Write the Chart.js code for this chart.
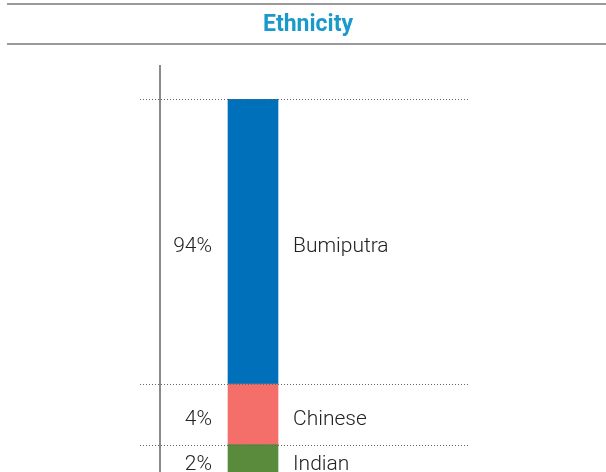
<!DOCTYPE html>
<html>
<head>
<meta charset="utf-8">
<script src="https://cdn.jsdelivr.net/npm/chart.js@4/dist/chart.umd.min.js"></script>
<style>
  html, body { margin: 0; padding: 0; background: #ffffff; overflow: hidden; }
  #wrap { position: relative; width: 606px; height: 480px; }
</style>
</head>
<body>
<div id="wrap"><canvas id="c"></canvas></div>
<script>
// ---- data (top to bottom as shown in the picture) ----
const chartTitle = 'Ethnicity';
const categories = ['Bumiputra', 'Chinese', 'Indian'];
const shares = [94, 4, 2];              // percentage labels shown beside the bar
const segmentHeights = [94, 20, 10];    // drawn segment heights (bar is not to scale)
const segmentColors = ['#0070bb', '#f46f69', '#5a8b3d'];
const axisMax = 135;

// build stacked datasets bottom-up (Chart.js stacks first dataset at the bottom)
const order = categories.map((_, i) => i).reverse();
const datasets = order.map(i => ({
  label: categories[i],
  data: [segmentHeights[i]],
  backgroundColor: segmentColors[i],
  borderWidth: 0,
  barThickness: 50,
  share: shares[i]
}));

const labelFont = '300 21px Roboto';
const titleFont = 'bold 23px Roboto';

const decor = {
  id: 'decor',
  beforeDraw(chart) {
    const ctx = chart.ctx;
    const W = chart.width;
    ctx.save();
    ctx.strokeStyle = '#9a9a9a';
    ctx.lineWidth = 2;
    ctx.beginPath();
    ctx.moveTo(7, 4); ctx.lineTo(W, 4);
    ctx.moveTo(7, 44); ctx.lineTo(W, 44);
    ctx.stroke();
    ctx.font = titleFont;
    ctx.fillStyle = '#1a9acb';
    ctx.textAlign = 'center';
    ctx.textBaseline = 'middle';
    ctx.fillText(chartTitle, 308, 25);
    ctx.restore();
  },
  afterDatasetsDraw(chart) {
    const ctx = chart.ctx;
    const y = chart.scales.y;
    const area = chart.chartArea;
    // dotted separators at each segment boundary
    let cum = 0;
    const bounds = [];
    for (const i of order) { cum += segmentHeights[i]; bounds.push(cum); }
    ctx.save();
    ctx.strokeStyle = '#666666';
    ctx.lineWidth = 1;
    ctx.setLineDash([1, 2]);
    const x0 = area.left - 20, x1 = area.right + 122;
    bounds.forEach(v => {
      const py = Math.round(y.getPixelForValue(v)) + 0.5;
      ctx.beginPath();
      ctx.moveTo(x0, py); ctx.lineTo(x1, py);
      ctx.stroke();
    });
    ctx.restore();
    // labels
    ctx.save();
    ctx.font = labelFont;
    ctx.fillStyle = '#222222';
    ctx.textBaseline = 'middle';
    chart.data.datasets.forEach((ds, di) => {
      const bar = chart.getDatasetMeta(di).data[0];
      const cy = (bar.y + bar.base) / 2 + 5;
      const half = bar.width / 2;
      ctx.textAlign = 'right';
      ctx.fillText(ds.share + '%', bar.x - half - 16, cy);
      ctx.textAlign = 'left';
      ctx.fillText(ds.label, bar.x + half + 15, cy);
    });
    ctx.restore();
  }
};

new Chart(document.getElementById('c'), {
  type: 'bar',
  data: { labels: [chartTitle], datasets },
  options: {
    responsive: true,
    maintainAspectRatio: false,
    animation: false,
    layout: { padding: { left: 0, right: 260, top: 66, bottom: 5 } },
    plugins: {
      legend: { display: false },
      tooltip: { enabled: false },
      title: { display: false }
    },
    scales: {
      x: { stacked: true, display: false },
      y: {
        stacked: true,
        min: 0,
        max: axisMax,
        grid: { display: false },
        ticks: { display: false },
        border: { display: true, color: '#8a8a8a', width: 2 },
        afterFit(scale) { scale.width = 160; }
      }
    }
  },
  plugins: [decor]
});
</script>
</body>
</html>
